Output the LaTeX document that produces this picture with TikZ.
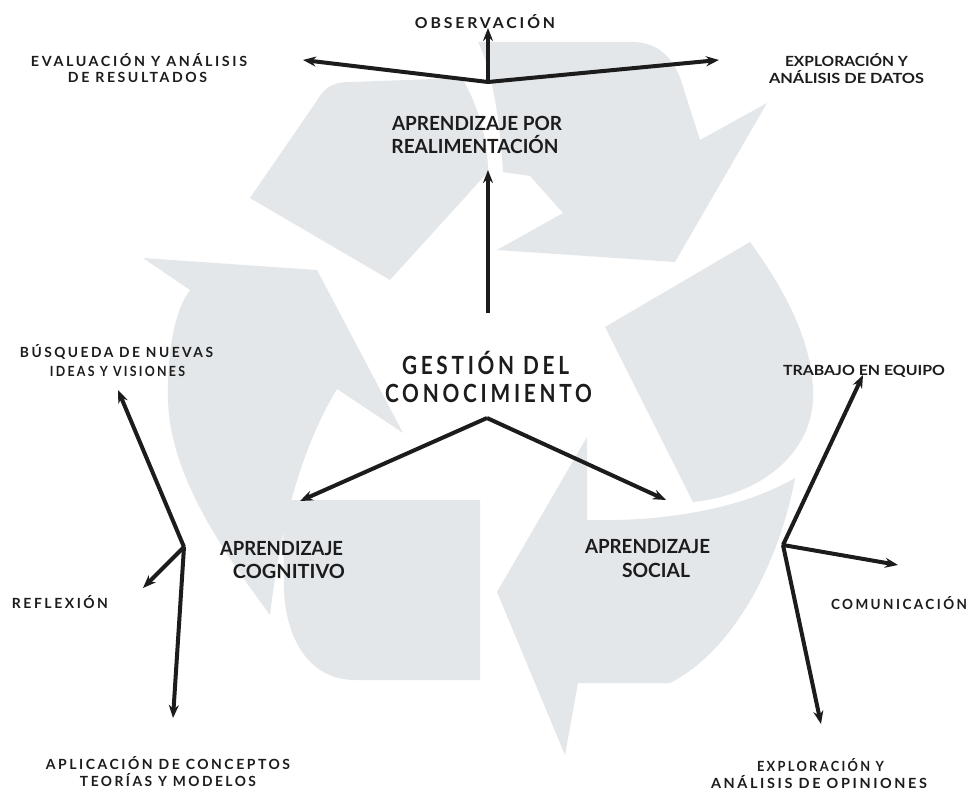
\documentclass[tikz,border=0pt]{standalone}
\usepackage{fontspec}
\usepackage{graphicx}
\setmainfont{Lato}
\newfontfamily\spc[LetterSpace=18]{Lato}
\usetikzlibrary{arrows.meta}
\definecolor{recygrey}{RGB}{228,231,234}
\definecolor{ink}{RGB}{28,28,28}
\newcommand\fw[2]{\resizebox{#1pt}{\height}{#2}}
\newcommand\fsz[1]{\fontsize{#1}{#1}\selectfont}
\tikzset{
  recy/.style={fill=recygrey},
  lbl/.style={inner sep=0pt, anchor=base, text=ink, font=\bfseries},
  arr/.style={draw=ink, line width=4pt, line join=round, -{Stealth[length=13pt,width=10pt]}}
}
\begin{document}
\begin{tikzpicture}[x=1pt,y=-1pt]
\useasboundingbox (0,0) rectangle (969,791);
\fill[white] (0,0) rectangle (969,791);
% recycle symbol
\fill[recy] (250,198) -- (316,102) .. controls (324,88) and (332,82) .. (350,82) -- (462,78) .. controls (478,105) and (488,140) .. (488,172) -- (390,280) -- cycle;
\fill[recy] (478,42) -- (632,42) .. controls (660,42) and (676,60) .. (684,90) -- (700,140) -- (767,103) -- (675,262) -- (497,250) -- (563,213) -- (530,176) -- (503,172) .. controls (500,120) and (492,70) .. (478,42) -- cycle;
\fill[recy] (605,327) -- (750,242) .. controls (785,290) and (815,345) .. (813,400) .. controls (810,455) and (760,495) .. (693,502) -- cycle;
\fill[recy] (587,437) -- (587,520) .. controls (660,522) and (740,510) .. (795,478) .. controls (780,560) and (735,650) .. (670,683) -- (578,683) -- (565,755) -- (497,592) -- cycle;
\fill[recy] (283,500) -- (480,500) -- (480,680) -- (355,680) .. controls (310,680) and (286,640) .. (284,590) -- cycle;
\fill[recy] (143,258) -- (317,270) -- (403,433) -- (337,389) .. controls (300,450) and (280,530) .. (270,615) .. controls (230,560) and (170,480) .. (168,400) .. controls (167,350) and (175,310) .. (190,290) -- cycle;
% labels
\node[lbl] (obs) at (485,29) {\fsz{15}\fw{140}{\spc OBSERVACIÓN}};
\node[lbl] (ev1) at (139,67) {\fsz{14}\fw{216}{\spc EVALUACIÓN Y ANÁLISIS}};
\node[lbl] (ev2) at (137.5,83) {\fsz{14}\fw{139}{\spc DE RESULTADOS}};
\node[lbl] (ex1) at (846.5,67) {\fsz{14}\fw{123}{EXPLORACIÓN Y}};
\node[lbl] (ex2) at (846.5,84) {\fsz{14}\fw{155}{ANÁLISIS DE DATOS}};
\node[lbl] (ap1) at (477,131) {\fsz{19.5}\fw{170}{APRENDIZAJE POR}};
\node[lbl] (ap2) at (475,154) {\fsz{19.5}\fw{167}{REALIMENTACIÓN}};
\node[lbl] (ge1) at (485.5,374) {\fsz{25}\fw{167}{\spc GESTIÓN DEL}};
\node[lbl] (ge2) at (488.5,402) {\fsz{25}\fw{207}{\spc CONOCIMIENTO}};
\node[lbl] (bu1) at (116.5,357) {\fsz{14}\fw{193}{\spc BÚSQUEDA DE NUEVAS}};
\node[lbl] (bu2) at (117.5,377) {\fsz{14}\fw{135}{\spc IDEAS Y VISIONES}};
\node[lbl] (tr) at (864,375) {\fsz{14}\fw{162}{TRABAJO EN EQUIPO}};
\node[lbl] (co1) at (281.5,555) {\fsz{19.5}\fw{123}{APRENDIZAJE}};
\node[lbl] (co2) at (289,578) {\fsz{19.5}\fw{112}{COGNITIVO}};
\node[lbl] (so1) at (647.5,553) {\fsz{19.5}\fw{125}{APRENDIZAJE}};
\node[lbl] (so2) at (656,577) {\fsz{19.5}\fw{68}{SOCIAL}};
\node[lbl] (re) at (60,608) {\fsz{14}\fw{96}{\spc REFLEXIÓN}};
\node[lbl] (cm) at (899,609) {\fsz{14}\fw{136}{\spc COMUNICACIÓN}};
\node[lbl] (al1) at (168,769) {\fsz{14}\fw{244}{\spc APLICACIÓN DE CONCEPTOS}};
\node[lbl] (al2) at (168,786) {\fsz{14}\fw{176}{\spc TEORÍAS Y MODELOS}};
\node[lbl] (eo1) at (820.5,771) {\fsz{14}\fw{127}{\spc EXPLORACIÓN Y}};
\node[lbl] (eo2) at (819,788) {\fsz{14}\fw{216}{\spc ANÁLISIS DE OPINIONES}};
% junctions and arrow ends
\coordinate (j1) at (488,82);
\coordinate (obsT) at (488,28);
\coordinate (evT) at (303,60);
\coordinate (exT) at (719,60);
\coordinate (vB) at (488,313);
\coordinate (vT) at (488,170);
\coordinate (j2) at (487,418);
\coordinate (coT) at (300,501);
\coordinate (soT) at (666,500);
\coordinate (j3) at (184,547);
\coordinate (buT) at (118,390);
\coordinate (reT) at (143,588);
\coordinate (alT) at (173,718);
\coordinate (j4) at (783,545);
\coordinate (trT) at (863,375);
\coordinate (cmT) at (898,565);
\coordinate (eoT) at (821,724);
% connectors
\draw[arr] (j1) -- (obsT);
\draw[arr] (j1) -- (evT);
\draw[arr] (j1) -- (exT);
\draw[arr] (vB) -- (vT);
\draw[arr] (j2) -- (coT);
\draw[arr] (j2) -- (soT);
\draw[arr] (j3) -- (buT);
\draw[arr] (j3) -- (reT);
\draw[arr] (j3) -- (alT);
\draw[arr] (j4) -- (trT);
\draw[arr] (j4) -- (cmT);
\draw[arr] (j4) -- (eoT);
\end{tikzpicture}
\end{document}
